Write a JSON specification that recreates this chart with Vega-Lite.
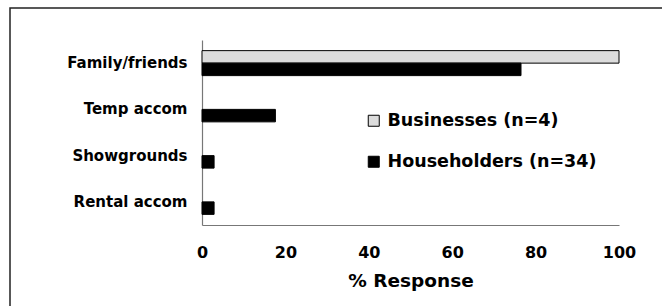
{
  "$schema": "https://vega.github.io/schema/vega-lite/v6.json",
  "autosize": "none",
  "padding": {"left": 10, "top": 8, "right": 0, "bottom": 0},
  "width": 700,
  "height": 330,
  "background": "white",
  "config": {
    "view": {"stroke": "#222222", "strokeWidth": 1.5},
    "font": "DejaVu Sans"
  },
  "data": {
    "values": [
      {"place": "Family/friends", "group": "Businesses (n=4)", "pct": 100},
      {"place": "Family/friends", "group": "Householders (n=34)", "pct": 76.5},
      {"place": "Temp accom", "group": "Businesses (n=4)", "pct": 0},
      {"place": "Temp accom", "group": "Householders (n=34)", "pct": 17.6},
      {"place": "Showgrounds", "group": "Businesses (n=4)", "pct": 0},
      {"place": "Showgrounds", "group": "Householders (n=34)", "pct": 2.9},
      {"place": "Rental accom", "group": "Businesses (n=4)", "pct": 0},
      {"place": "Rental accom", "group": "Householders (n=34)", "pct": 2.9}
    ]
  },
  "mark": {"type": "bar", "stroke": "black", "strokeWidth": 1},
  "encoding": {
    "y": {
      "field": "place",
      "type": "nominal",
      "sort": ["Family/friends", "Temp accom", "Showgrounds", "Rental accom"],
      "scale": {"range": [32, 217], "paddingInner": 0.46, "paddingOuter": 0.23},
      "axis": {
        "orient": "left",
        "offset": -192,
        "title": null,
        "ticks": false,
        "labelPadding": 15,
        "labelFont": "DejaVu Sans",
        "labelFontSize": 15,
        "labelFontWeight": "bold",
        "labelColor": "black",
        "domainColor": "#777777",
        "domainWidth": 1.2,
        "grid": false
      }
    },
    "yOffset": {
      "field": "group",
      "type": "nominal",
      "sort": ["Businesses (n=4)", "Householders (n=34)"],
      "scale": {"paddingInner": 0, "paddingOuter": 0}
    },
    "x": {
      "field": "pct",
      "type": "quantitative",
      "scale": {"domain": [0, 100], "range": [192, 609], "nice": false},
      "axis": {
        "orient": "bottom",
        "offset": -113,
        "title": "% Response",
        "values": [0, 20, 40, 60, 80, 100],
        "ticks": false,
        "grid": false,
        "labelFlush": false,
        "labelPadding": 19,
        "labelFont": "DejaVu Sans",
        "labelFontSize": 16,
        "labelFontWeight": "bold",
        "labelColor": "black",
        "titleFont": "DejaVu Sans",
        "titleFontSize": 18.5,
        "titleFontWeight": "bold",
        "titleColor": "black",
        "titlePadding": 11,
        "domainColor": "#777777",
        "domainWidth": 1.2
      }
    },
    "strokeOpacity": {
      "condition": {"test": "datum.pct > 0", "value": 1},
      "value": 0
    },
    "fill": {
      "field": "group",
      "type": "nominal",
      "scale": {"domain": ["Businesses (n=4)", "Householders (n=34)"], "range": ["#dcdcdc", "#000000"]},
      "legend": {
        "title": null,
        "orient": "none",
        "legendX": 355,
        "legendY": 104,
        "symbolType": "square",
        "symbolSize": 121,
        "symbolStrokeColor": "black",
        "symbolStrokeWidth": 1,
        "symbolOpacity": 1,
        "labelFont": "DejaVu Sans",
        "labelFontSize": 17.5,
        "labelFontWeight": "bold",
        "labelColor": "black",
        "labelLimit": 300,
        "labelOffset": 5,
        "rowPadding": 22
      }
    }
  }
}
